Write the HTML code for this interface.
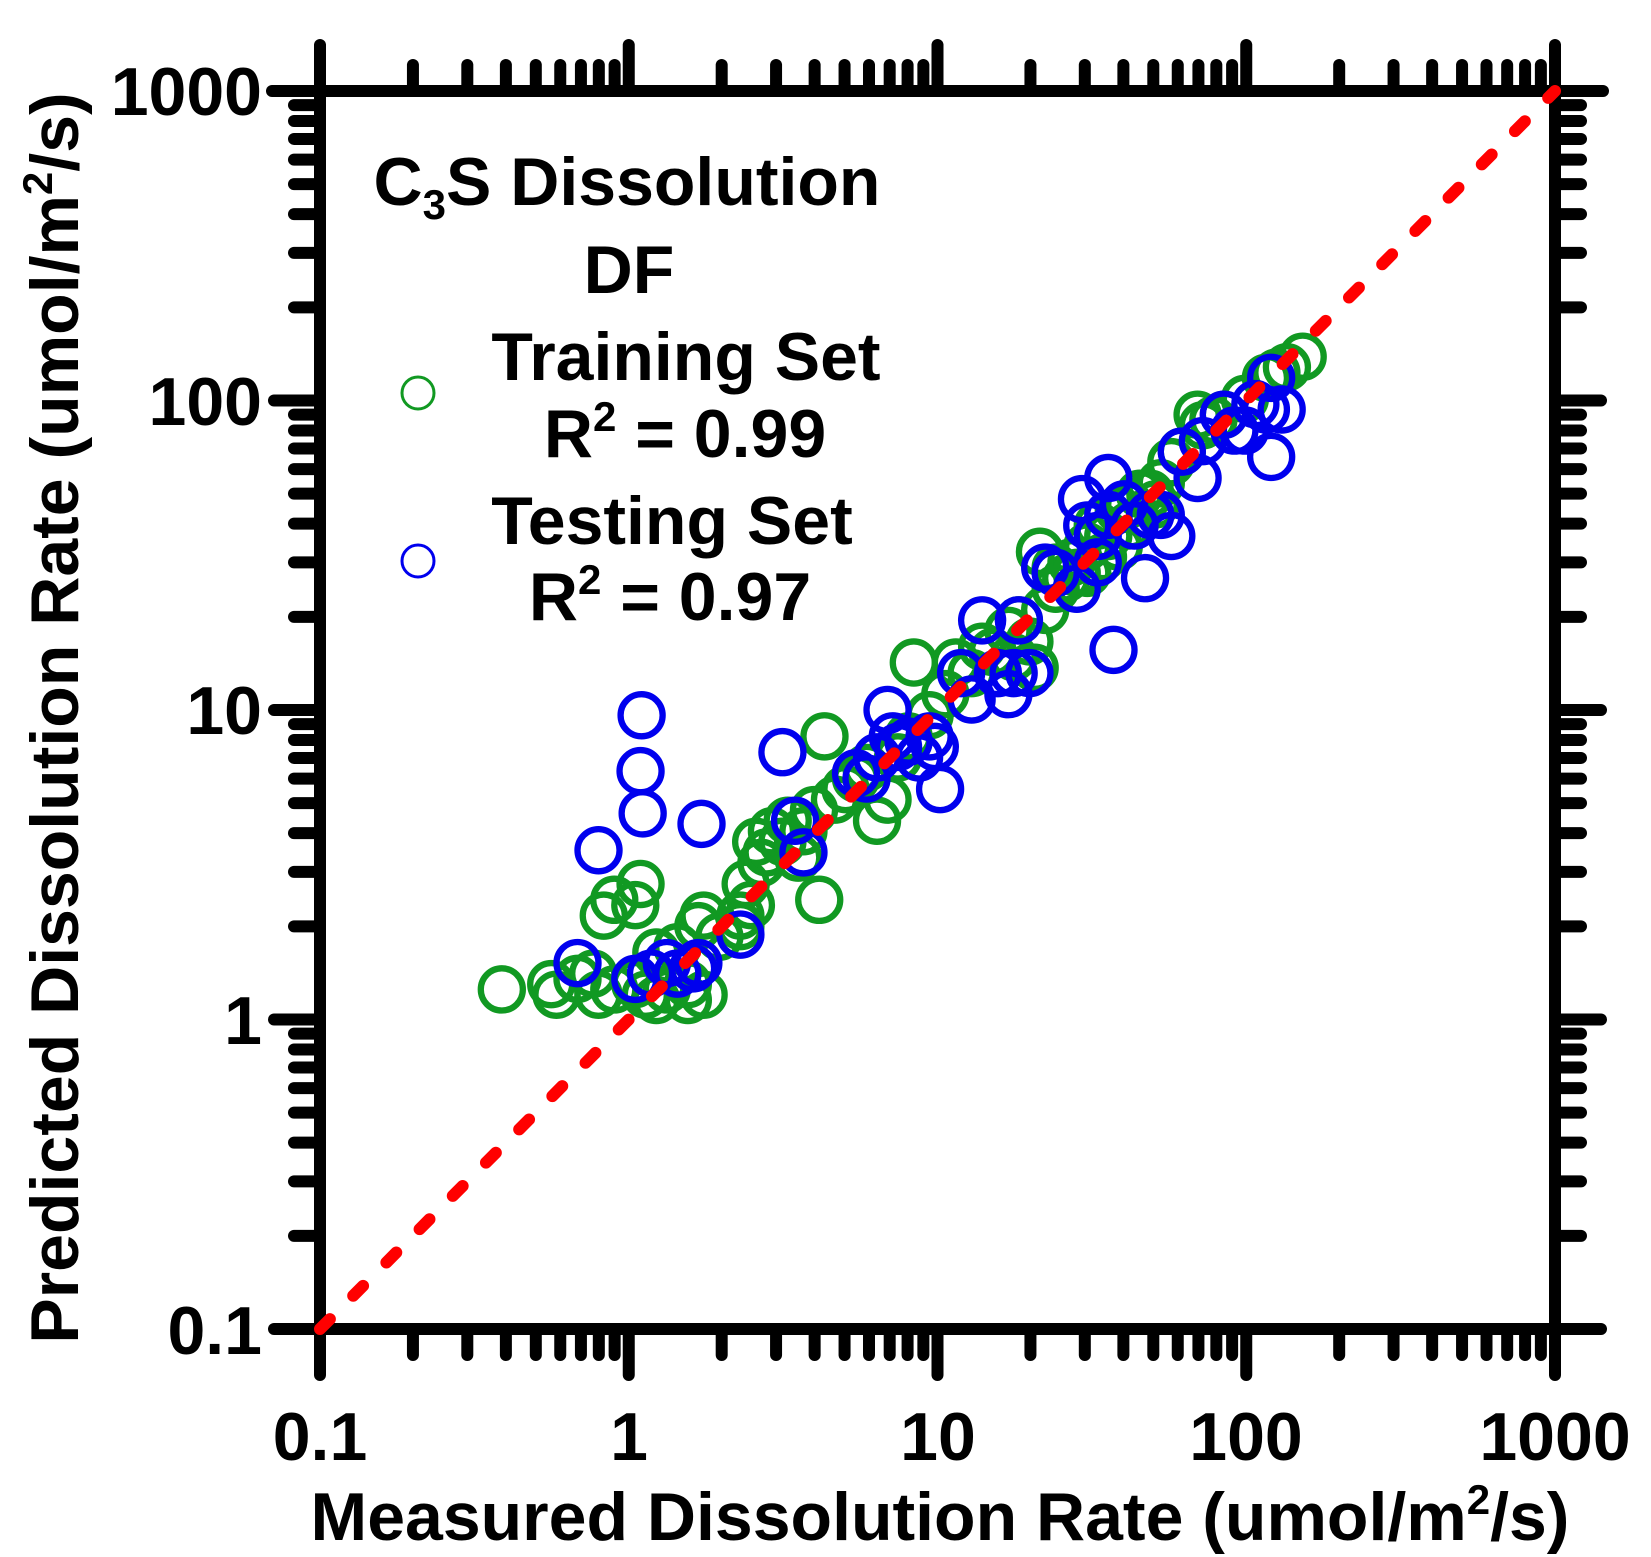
<!DOCTYPE html>
<html><head><meta charset="utf-8"><style>
html,body{margin:0;padding:0;background:#fff;}
svg{display:block;font-family:"Liberation Sans",Arial,sans-serif;font-weight:bold;}
</style></head><body>
<svg id="s" width="1651" height="1557" viewBox="0 0 1651 1557" xmlns="http://www.w3.org/2000/svg">
<g id="ticks" stroke="#000" stroke-width="12" stroke-linecap="round"></g>
<g id="data" fill="none" stroke-width="6" transform="matrix(1.051,0,0,1.0545,4.7,-1.8)"></g>
<rect x="320" y="91" width="1235" height="1238" fill="none" stroke="#000" stroke-width="12"/>
<line x1="320" y1="1329" x2="1555" y2="91" stroke="#ff0000" stroke-width="12" stroke-linecap="round" stroke-dasharray="14 33"/>
<g font-size="68" text-anchor="end">
<text x="262" y="115">1000</text>
<text x="262" y="425">100</text>
<text x="262" y="734">10</text>
<text x="262" y="1044">1</text>
<text x="262" y="1354">0.1</text>
</g>
<g font-size="68" text-anchor="middle">
<text x="320" y="1460">0.1</text>
<text x="629" y="1460">1</text>
<text x="938" y="1460">10</text>
<text x="1246" y="1460">100</text>
<text x="1555" y="1460">1000</text>
<text x="940" y="1540">Measured Dissolution Rate (umol/m<tspan font-size="42" dy="-26">2</tspan><tspan dy="26">/s)</tspan></text>
<text transform="translate(78,718) rotate(-90)">Predicted Dissolution Rate (umol/m<tspan font-size="42" dy="-26">2</tspan><tspan dy="26">/s)</tspan></text>
<text x="627" y="205">C<tspan font-size="42" dy="14">3</tspan><tspan dy="-14">S Dissolution</tspan></text>
<text x="629" y="293">DF</text>
<text x="686" y="380">Training Set</text>
<text x="685" y="457">R<tspan font-size="42" dy="-26">2</tspan><tspan dy="26"> = 0.99</tspan></text>
<text x="672" y="544">Testing Set</text>
<text x="670" y="620">R<tspan font-size="42" dy="-26">2</tspan><tspan dy="26"> = 0.97</tspan></text>
</g>
<circle cx="418" cy="393" r="16" fill="none" stroke="#119922" stroke-width="3"/>
<circle cx="418" cy="561" r="16" fill="none" stroke="#0000ee" stroke-width="3"/>
</svg>
<script>
var NS="http://www.w3.org/2000/svg";
var tk=document.getElementById("ticks");
function ln(x1,y1,x2,y2){var l=document.createElementNS(NS,"line");l.setAttribute("x1",x1);l.setAttribute("y1",y1);l.setAttribute("x2",x2);l.setAttribute("y2",y2);tk.appendChild(l);}
var X0=320,XD=308.75,Y0=1329,YD=309.5;
for(var d=0;d<4;d++){for(var m=1;m<10;m++){
 var f=Math.log10(m);var maj=(m==1);var L=maj?46:26;
 var x=X0+(d+f)*XD, y=Y0-(d+f)*YD;
 ln(x,1329,x,1329+L); ln(x,91,x,91-L);
 ln(320,y,320-L,y); ln(1555,y,1555+L,y);
}}
ln(1555,1329,1555,1375);ln(1555,91,1555,45);ln(320,91,272,91);ln(1555,91,1603,91);
var g=document.getElementById("data");
function c(p,col){for(var i=0;i<p.length;i++){var e=document.createElementNS(NS,"circle");e.setAttribute("cx",p[i][0]);e.setAttribute("cy",p[i][1]);e.setAttribute("r",20);e.setAttribute("stroke",col);g.appendChild(e);}}
c([[473,940],[520,935],[525,945],[545,930],[560,925],[565,945],[580,940],[600,935],[610,945],[630,940],[650,935],[665,945],[570,870],[580,855],[605,840],[600,860],[620,905],[640,900],[660,880],[665,870],[680,890],[700,870],[710,860],[705,840],[720,820],[715,800],[730,790],[745,780],[760,790],[775,855],[780,700],[770,770],[790,760],[800,750],[810,740],[820,730],[830,780],[840,760],[850,720],[860,700],[865,630],[880,680],[895,660],[905,630],[920,640],[940,620],[955,600],[965,590],[980,635],[975,610],[990,580],[1000,560],[1010,550],[1020,545],[985,525],[1030,520],[1040,500],[1050,510],[1060,485],[1070,480],[1080,470],[1090,470],[1100,460],[1110,440],[1120,430],[1135,395],[1140,405],[1150,400],[1160,395],[1180,380],[1200,360],[1210,355],[1235,340],[1220,350],[1030,545],[1045,530],[1000,540],[960,625],[930,615],[700,880],[650,950],[620,950],[740,800],[755,815],[725,810],[1060,520],[1070,500],[1015,535],[1095,480]],"#119922");
c([[565,808],[606,680],[605,733],[607,773],[663,783],[740,715],[752,780],[760,810],[700,888],[545,915],[600,930],[615,925],[630,915],[640,925],[655,920],[660,915],[810,735],[820,740],[840,675],[845,700],[830,720],[850,710],[860,705],[870,720],[880,700],[890,750],[885,710],[910,640],[920,665],[930,590],[945,640],[955,660],[960,640],[965,590],[975,640],[990,540],[1000,545],[1020,560],[1025,475],[1030,500],[1040,535],[1050,455],[1055,618],[1065,480],[1075,500],[1085,550],[1090,490],[1100,490],[1110,510],[1120,430],[1135,455],[1140,420],[1160,395],[1170,410],[1180,410],[1190,385],[1200,390],[1205,360],[1205,435],[1215,390],[1040,510],[1050,490]],"#0000ee");
</script>
</body></html>
